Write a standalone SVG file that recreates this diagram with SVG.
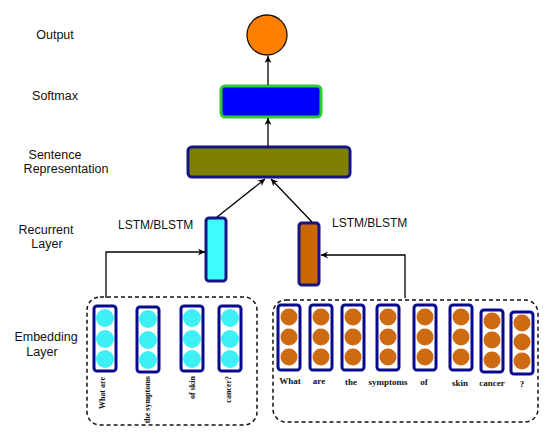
<svg xmlns="http://www.w3.org/2000/svg" width="550" height="433" viewBox="0 0 550 433">
<defs>
<marker id="ah" viewBox="0 0 10 10" refX="10" refY="5" markerWidth="7" markerHeight="7" orient="auto" markerUnits="userSpaceOnUse">
<path d="M0,0 L10,5 L0,10 L3,5 z" fill="#000"/>
</marker>
<style>
.lbl{font-family:"Liberation Sans",Arial,sans-serif;font-size:12.5px;fill:#111;text-anchor:middle}
.lstm{font-family:"Liberation Sans",Arial,sans-serif;font-size:12px;fill:#111}
.w{font-family:"Liberation Serif","Times New Roman",serif;font-size:9px;font-weight:bold;fill:#111;text-anchor:middle}
.wv{font-family:"Liberation Serif","Times New Roman",serif;font-size:8px;font-weight:bold;fill:#111;text-anchor:end}
.col{fill:#fff;stroke:#0a0a8c;stroke-width:3}
.cy{fill:#3ef0f5}
.br{fill:#cd6a12}
.dash{fill:none;stroke:#111;stroke-width:1.5;stroke-dasharray:4,3}
.con{fill:none;stroke:#000;stroke-width:1.3;marker-end:url(#ah)}
</style>
</defs>
<rect width="550" height="433" fill="#fff"/>

<g id="labels">
<text class="lbl" x="55" y="39">Output</text>
<text class="lbl" x="55" y="100">Softmax</text>
<text class="lbl" x="55" y="159">Sentence</text>
<text class="lbl" x="66" y="173">Representation</text>
<text class="lbl" x="46" y="234">Recurrent</text>
<text class="lbl" x="47" y="248">Layer</text>
<text class="lbl" x="46" y="341">Embedding</text>
<text class="lbl" x="42" y="356">Layer</text>
</g>

<g id="output"><circle cx="267" cy="35" r="20" fill="#ff8000" stroke="#111" stroke-width="1.3"/></g>
<g id="softmax"><rect x="221" y="86" width="100" height="31" rx="4" fill="#0000ff" stroke="#2ecc2e" stroke-width="3"/></g>
<g id="sentence"><rect x="188" y="147" width="162" height="30" rx="4" fill="#808000" stroke="#141482" stroke-width="3"/></g>

<g id="lstm-left">
<rect x="206" y="218" width="20" height="63" rx="3" fill="#3ffcfc" stroke="#141482" stroke-width="3"/>
<text class="lstm" x="118" y="229">LSTM/BLSTM</text>
</g>
<g id="lstm-right">
<rect x="299" y="223" width="20" height="62" rx="3" fill="#cc6600" stroke="#141482" stroke-width="3"/>
<text class="lstm" x="332" y="227">LSTM/BLSTM</text>
</g>

<g id="connectors">
<line class="con" x1="268" y1="85" x2="268" y2="56"/>
<line class="con" x1="268" y1="146" x2="268" y2="118"/>
<line class="con" x1="217" y1="217" x2="265" y2="179"/>
<line class="con" x1="312" y1="222" x2="271" y2="179"/>
<polyline class="con" points="106,298 106,252 205,252"/>
<polyline class="con" points="405,298 405,255 321,255"/>
</g>

<g id="embed-left">
<rect class="dash" x="87" y="297" width="170" height="128" rx="13"/>
<g id="lc1"><rect class="col" x="94" y="306" width="22" height="65" rx="3"/><circle class="cy" cx="105" cy="318" r="9"/><circle class="cy" cx="105" cy="339" r="9"/><circle class="cy" cx="105" cy="359" r="9"/><text class="wv" transform="translate(105,377) rotate(-90)">What are</text></g>
<g id="lc2"><rect class="col" x="137" y="307" width="22" height="65" rx="3"/><circle class="cy" cx="148" cy="319" r="9"/><circle class="cy" cx="148" cy="340" r="9"/><circle class="cy" cx="148" cy="360" r="9"/><text class="wv" transform="translate(150,376) rotate(-90)">the symptoms</text></g>
<g id="lc3"><rect class="col" x="181" y="306" width="22" height="65" rx="3"/><circle class="cy" cx="192" cy="318" r="9"/><circle class="cy" cx="192" cy="339" r="9"/><circle class="cy" cx="192" cy="359" r="9"/><text class="wv" transform="translate(195,376) rotate(-90)">of skin</text></g>
<g id="lc4"><rect class="col" x="219" y="306" width="22" height="65" rx="3"/><circle class="cy" cx="230" cy="318" r="9"/><circle class="cy" cx="230" cy="339" r="9"/><circle class="cy" cx="230" cy="359" r="9"/><text class="wv" transform="translate(231,376) rotate(-90)">cancer?</text></g>
</g>

<g id="embed-right">
<rect class="dash" x="273" y="300" width="265" height="122" rx="13"/>
<g id="rc1"><rect class="col" x="278" y="305" width="22" height="65" rx="3"/><circle class="br" cx="289" cy="317" r="8.5"/><circle class="br" cx="289" cy="337" r="8.5"/><circle class="br" cx="289" cy="357" r="8.5"/><text class="w" x="290" y="384">What</text></g>
<g id="rc2"><rect class="col" x="310" y="305" width="22" height="65" rx="3"/><circle class="br" cx="321" cy="317" r="8.5"/><circle class="br" cx="321" cy="337" r="8.5"/><circle class="br" cx="321" cy="357" r="8.5"/><text class="w" x="319" y="384">are</text></g>
<g id="rc3"><rect class="col" x="342" y="305" width="22" height="65" rx="3"/><circle class="br" cx="353" cy="317" r="8.5"/><circle class="br" cx="353" cy="337" r="8.5"/><circle class="br" cx="353" cy="357" r="8.5"/><text class="w" x="351" y="385">the</text></g>
<g id="rc4"><rect class="col" x="377" y="305" width="22" height="65" rx="3"/><circle class="br" cx="388" cy="317" r="8.5"/><circle class="br" cx="388" cy="337" r="8.5"/><circle class="br" cx="388" cy="357" r="8.5"/><text class="w" x="388" y="385">symptoms</text></g>
<g id="rc5"><rect class="col" x="414" y="305" width="22" height="65" rx="3"/><circle class="br" cx="425" cy="317" r="8.5"/><circle class="br" cx="425" cy="337" r="8.5"/><circle class="br" cx="425" cy="357" r="8.5"/><text class="w" x="424" y="385">of</text></g>
<g id="rc6"><rect class="col" x="450" y="305" width="22" height="65" rx="3"/><circle class="br" cx="461" cy="317" r="8.5"/><circle class="br" cx="461" cy="337" r="8.5"/><circle class="br" cx="461" cy="357" r="8.5"/><text class="w" x="460" y="386">skin</text></g>
<g id="rc7"><rect class="col" x="481" y="310" width="22" height="62" rx="3"/><circle class="br" cx="492" cy="321" r="8.5"/><circle class="br" cx="492" cy="340" r="8.5"/><circle class="br" cx="492" cy="360" r="8.5"/><text class="w" x="492" y="386">cancer</text></g>
<g id="rc8"><rect class="col" x="511" y="312" width="22" height="62" rx="3"/><circle class="br" cx="522" cy="323" r="8.5"/><circle class="br" cx="522" cy="342" r="8.5"/><circle class="br" cx="522" cy="361" r="8.5"/><text class="w" x="522" y="387">?</text></g>
</g>
</svg>
